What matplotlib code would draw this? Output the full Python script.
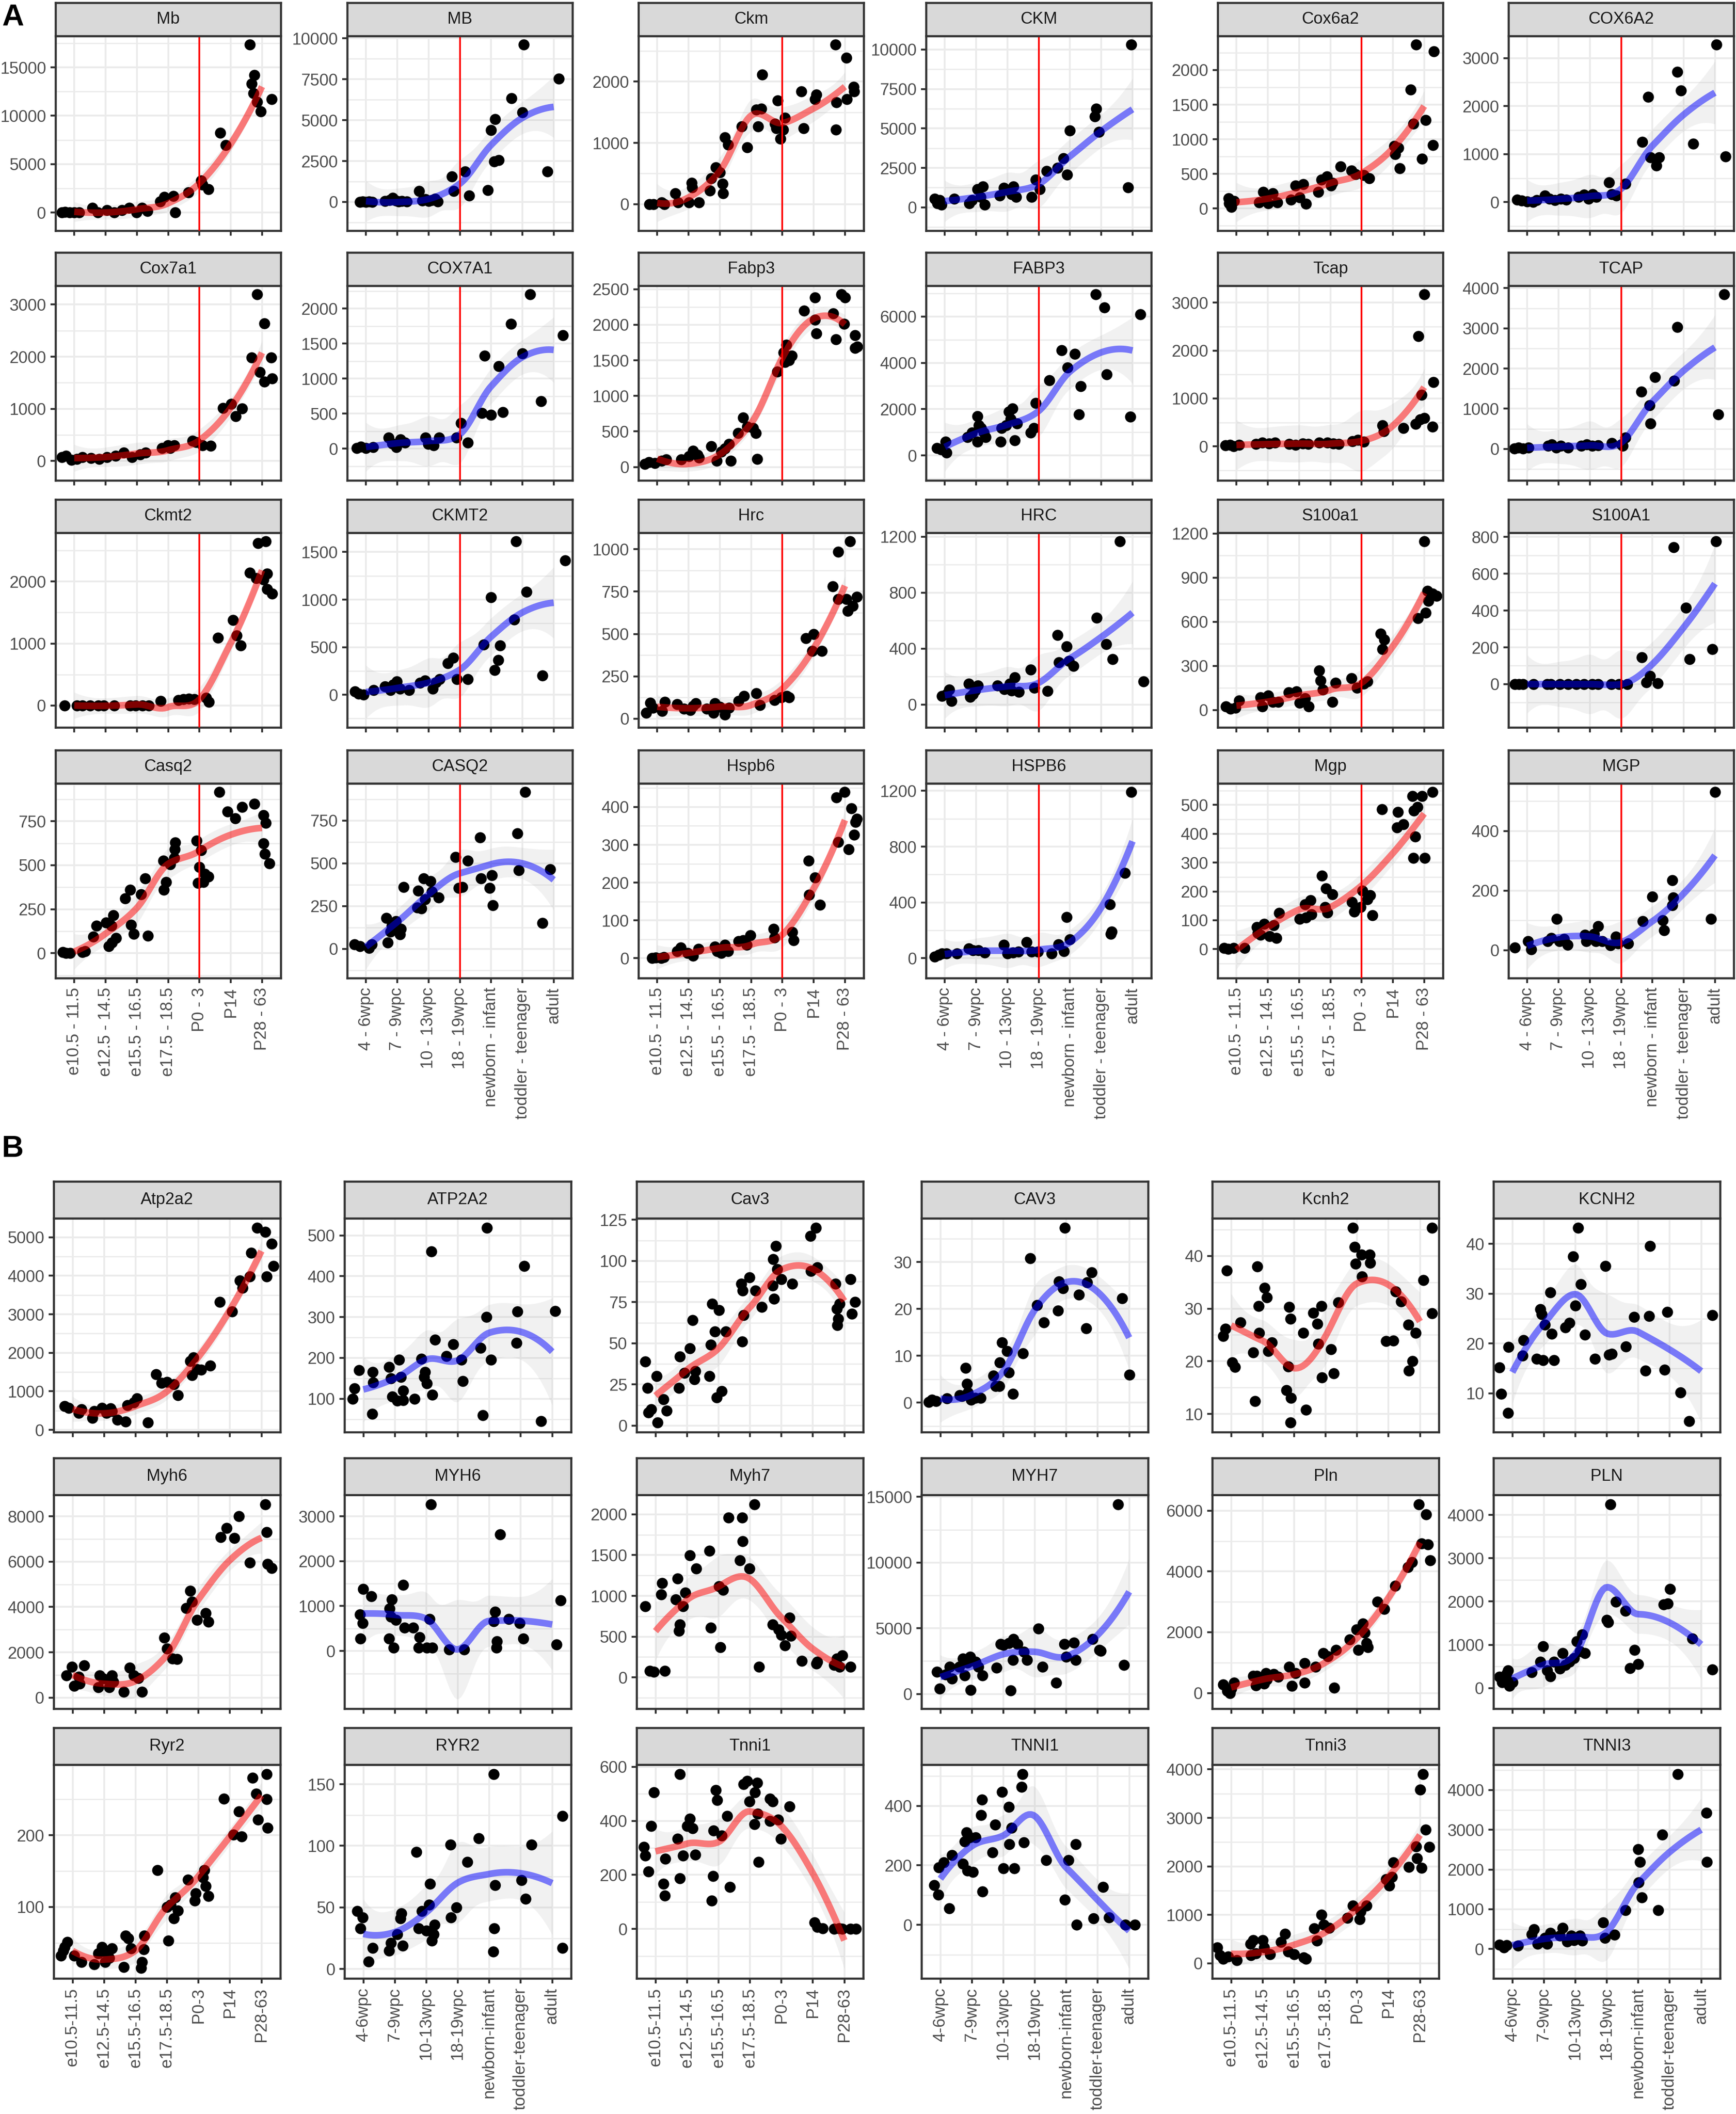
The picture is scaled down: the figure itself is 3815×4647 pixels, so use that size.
import numpy as np
import matplotlib
matplotlib.use("Agg")
import matplotlib.pyplot as plt

plt.rcParams['font.family'] = ['Liberation Sans', 'DejaVu Sans']

W, H = 3815, 4647

# stage labels
mouse_a = ["e10.5 - 11.5", "e12.5 - 14.5", "e15.5 - 16.5", "e17.5 - 18.5", "P0 - 3", "P14", "P28 - 63"]
human_a = ["4 - 6wpc", "7 - 9wpc", "10 - 13wpc", "18 - 19wpc", "newborn - infant", "toddler - teenager", "adult"]
mouse_b = ["e10.5-11.5", "e12.5-14.5", "e15.5-16.5", "e17.5-18.5", "P0-3", "P14", "P28-63"]
human_b = ["4-6wpc", "7-9wpc", "10-13wpc", "18-19wpc", "newborn-infant", "toddler-teenager", "adult"]

# ---- panel A points (jittered stage position, expression) ----
Mb = [(0.6,0),(0.7,50),(0.85,0),(1.0,20),(1.15,0),(1.58,480),(1.75,0),(2.05,240),(2.28,0),(2.52,240),(2.75,480),(2.99,0),(3.16,480),(3.34,160),(3.75,1120),(3.87,1600),(4.16,1680),(4.22,0),(4.64,2080),(5.05,3270),(5.1,2870),(5.28,2400),(5.67,8220),(5.84,6950),(6.61,17330),(6.67,13330),(6.73,12300),(6.75,14210),(6.84,11420),(6.96,10460),(7.31,11700)]
MB = [(0.8,0),(0.9,30),(1.0,0),(1.1,20),(1.2,10),(1.6,50),(1.75,100),(1.85,250),(1.95,80),(2.05,30),(2.15,60),(2.3,20),(2.7,660),(2.8,80),(2.9,150),(3.0,40),(3.1,100),(3.2,200),(3.3,30),(3.75,1560),(3.8,660),(4.16,1850),(4.3,380),(4.9,710),(5.0,4400),(5.1,2460),(5.13,5070),(5.25,2560),(5.65,6350),(6.0,5490),(6.05,9610),(6.8,1850),(7.17,7530)]
Ckm = [(0.75,0),(0.88,0),(1.14,25),(1.23,0),(1.58,175),(1.67,25),(2.02,25),(2.1,350),(2.12,270),(2.34,25),(2.69,220),(2.73,420),(2.87,600),(3.0,520),(3.09,330),(3.1,175),(3.17,1090),(3.26,970),(3.7,1265),(3.88,930),(4.17,1540),(4.32,1560),(4.23,1265),(4.35,2110),(4.76,1315),(4.85,1690),(4.8,1240),(4.94,1070),(5.03,1215),(5.08,1410),(5.61,1840),(5.68,1240),(6.09,1790),(6.04,1710),(6.7,2600),(6.71,1215),(6.73,1660),(7.05,2390),(7.06,1710),(7.28,1910),(7.3,1840)]
CKM = [(0.68,550),(0.77,255),(0.89,155),(0.84,450),(1.3,550),(1.78,255),(1.87,450),(2.05,1140),(2.22,1330),(2.14,650),(2.28,155),(2.75,745),(2.89,1235),(3.02,1100),(3.14,845),(3.19,1330),(3.28,650),(3.77,650),(3.9,1765),(4.04,1140),(4.26,2315),(4.61,2510),(4.79,3100),(4.91,2060),(5.0,4870),(5.84,6240),(5.8,5750),(5.93,4770),(6.86,1255),(6.96,10300)]
Cox6a2 = [(0.75,150),(0.76,75),(0.84,20),(0.93,110),(1.72,85),(1.85,240),(1.96,195),(2.02,75),(2.16,220),(2.3,85),(2.74,130),(2.88,330),(3.02,160),(3.14,350),(3.22,65),(3.61,240),(3.72,415),(3.89,465),(4.02,330),(4.07,370),(4.33,610),(4.67,545),(4.81,495),(5.07,480),(5.25,435),(6.07,785),(6.18,875),(6.22,580),(6.04,905),(6.57,1715),(6.74,2365),(6.65,1225),(7.04,1280),(6.93,720),(7.28,915),(7.31,2270)]
COX6A2 = [(0.68,55),(0.82,30),(1.0,15),(1.18,0),(1.3,45),(1.57,140),(1.71,75),(1.89,45),(2.07,75),(2.24,55),(2.64,110),(2.82,160),(2.96,75),(3.09,170),(3.2,110),(3.61,415),(3.7,170),(3.84,140),(4.14,380),(4.68,1255),(4.86,2195),(4.94,935),(5.12,765),(5.21,935),(5.79,2720),(5.91,2325),(6.3,1220),(7.04,3280),(7.34,955)]
Cox7a1 = [(0.61,70),(0.74,100),(0.91,25),(1.09,40),(1.26,70),(1.53,60),(1.79,40),(2.05,70),(2.32,100),(2.58,160),(2.85,70),(3.1,130),(3.28,160),(3.81,245),(3.99,300),(4.07,245),(4.2,300),(4.78,390),(4.9,360),(5.1,300),(5.36,290),(5.75,1015),(6.02,1090),(6.16,860),(6.37,1005),(6.67,1980),(6.84,3190),(6.93,1700),(7.07,2640),(7.08,1520),(7.3,1980),(7.33,1580)]
COX7A1 = [(0.7,10),(0.84,30),(1.0,10),(1.23,20),(1.72,160),(1.84,75),(1.97,20),(2.1,130),(2.25,85),(2.9,160),(2.99,65),(3.17,45),(3.34,160),(3.89,160),(4.04,365),(4.25,85),(4.71,505),(4.79,1325),(5.0,480),(5.24,1175),(5.38,520),(5.63,1780),(6.0,1360),(6.25,2200),(6.6,675),(7.3,1620)]
Fabp3 = [(0.61,40),(0.74,70),(0.93,55),(1.14,85),(1.28,105),(1.76,105),(2.02,150),(2.15,230),(2.29,170),(2.34,130),(2.73,290),(2.9,85),(3.05,215),(3.17,260),(3.35,85),(3.3,325),(3.58,480),(3.74,695),(3.88,570),(4.06,550),(4.15,480),(4.19,115),(4.83,1340),(5.04,1610),(5.12,1720),(5.09,1475),(5.21,1500),(5.3,1565),(5.69,2200),(6.04,2380),(6.05,2070),(6.09,1875),(6.62,2160),(6.71,1795),(6.88,2425),(7.0,2380),(6.97,2015),(7.32,1850),(7.4,1695),(7.33,1675)]
FABP3 = [(0.75,330),(0.88,260),(1.05,130),(1.02,590),(1.72,785),(1.87,980),(2.04,1700),(2.08,1310),(2.05,590),(2.16,1180),(2.25,980),(2.31,785),(2.79,590),(2.82,1180),(2.96,1310),(3.05,1900),(3.17,2030),(3.23,655),(3.31,1375),(3.1,1570),(3.75,980),(3.84,1180),(3.9,2265),(4.34,3250),(4.73,4545),(4.93,3800),(5.16,4390),(5.34,2990),(5.29,1770),(5.82,6945),(6.1,6380),(6.17,3500),(6.93,1665),(7.25,6090)]
Tcap = [(0.65,20),(0.79,35),(0.91,0),(1.09,35),(1.62,50),(1.83,80),(2.05,60),(2.23,80),(2.68,50),(2.89,35),(3.12,60),(3.3,50),(3.65,80),(3.91,80),(4.09,60),(4.27,50),(4.71,110),(4.88,140),(5.07,95),(5.67,440),(5.71,320),(6.34,380),(6.82,2300),(7.0,3170),(6.73,470),(6.87,560),(7.01,595),(6.91,1080),(7.3,1340),(7.26,410)]
TCAP = [(0.59,15),(0.72,35),(0.86,15),(1.04,35),(1.66,75),(1.78,110),(1.92,35),(2.07,75),(2.31,35),(2.72,75),(2.9,110),(3.08,75),(3.26,90),(3.7,150),(4.0,110),(4.05,75),(4.14,285),(4.64,1420),(4.91,1080),(4.94,635),(5.09,1790),(5.69,1700),(5.8,3035),(7.11,860),(7.29,3840)]
Ckmt2 = [(0.69,0),(1.09,0),(1.26,0),(1.51,0),(1.77,0),(1.94,0),(2.28,0),(2.79,0),(2.96,0),(3.18,0),(3.38,0),(3.76,75),(4.32,90),(4.49,100),(4.66,110),(4.83,100),(5.22,125),(5.3,60),(5.59,1090),(6.07,1380),(6.19,1130),(6.32,970),(6.61,2140),(6.87,2620),(7.12,2645),(6.82,2055),(7.04,2030),(7.16,2130),(7.17,1880),(7.33,1805)]
CKMT2 = [(0.64,35),(0.76,10),(0.93,3),(1.24,50),(1.61,85),(1.78,50),(1.87,105),(1.99,140),(2.09,65),(2.38,50),(2.72,125),(2.89,150),(3.14,65),(3.23,130),(3.35,165),(3.62,330),(3.79,390),(3.91,165),(4.26,165),(4.77,525),(4.99,1025),(5.11,260),(5.23,365),(5.29,515),(5.79,1610),(5.74,790),(6.13,1080),(6.64,200),(7.37,1410)]
Hrc = [(0.64,35),(0.78,95),(0.86,65),(1.15,45),(1.24,100),(1.63,85),(1.86,60),(2.06,50),(2.15,75),(2.23,90),(2.58,60),(2.84,90),(2.8,35),(3.0,70),(3.17,25),(3.29,65),(3.6,105),(3.78,135),(4.17,150),(4.29,80),(4.75,110),(4.97,125),(5.14,135),(5.22,125),(5.75,475),(6.0,500),(5.95,400),(6.26,400),(6.61,780),(6.78,985),(7.16,1045),(6.79,705),(7.04,705),(7.09,635),(7.25,665),(7.38,720)]
HRC = [(0.91,60),(1.14,105),(1.22,25),(1.05,75),(1.77,150),(1.9,75),(1.97,100),(2.06,135),(1.81,55),(2.68,135),(2.9,110),(3.07,150),(3.14,100),(3.24,195),(3.36,90),(3.74,250),(3.86,120),(4.29,95),(4.6,495),(4.64,300),(4.89,415),(4.97,310),(5.11,275),(5.86,620),(6.16,430),(6.37,325),(6.59,1165),(7.35,165)]
S100a1 = [(0.66,25),(0.8,8),(1.09,65),(0.97,15),(1.77,85),(1.82,25),(2.02,100),(2.16,55),(2.33,55),(2.67,120),(2.91,125),(3.02,50),(3.31,25),(3.19,80),(3.64,270),(3.69,200),(3.76,140),(4.07,55),(4.16,185),(4.67,215),(4.85,150),(5.07,180),(5.19,195),(5.61,520),(5.73,480),(5.66,415),(6.8,625),(7.0,1145),(7.05,660),(7.13,740),(7.1,810),(7.27,790),(7.39,775)]
S100A1 = [(0.61,0),(0.73,0),(0.86,0),(1.2,0),(1.63,0),(1.75,0),(2.05,0),(2.31,0),(2.56,0),(2.81,0),(3.07,0),(3.27,0),(3.68,0),(3.93,0),(4.19,0),(4.66,145),(4.93,45),(4.8,10),(5.17,5),(5.68,745),(6.07,415),(6.19,135),(6.92,190),(7.03,775)]
Casq2 = [(0.63,5),(0.74,0),(0.86,0),(1.26,5),(1.34,12),(1.6,95),(1.71,155),(2.02,175),(2.19,155),(2.24,215),(2.1,40),(2.2,60),(2.33,85),(2.62,310),(2.79,360),(2.82,160),(2.9,110),(3.13,335),(3.35,100),(3.26,425),(3.84,525),(3.86,360),(3.94,405),(4.06,505),(4.2,540),(4.21,590),(4.23,630),(4.91,640),(4.95,400),(5.05,585),(5.0,490),(5.12,405),(5.17,450),(5.29,435),(5.63,915),(5.9,805),(6.14,765),(6.36,830),(6.75,850),(7.04,785),(7.12,740),(7.05,625),(7.09,565),(7.24,510)]
CASQ2 = [(0.63,25),(0.8,15),(1.1,5),(1.19,25),(1.65,180),(1.7,35),(1.78,100),(1.83,135),(1.95,160),(2.12,115),(2.09,85),(2.21,360),(2.64,240),(2.67,340),(2.77,235),(2.84,410),(2.89,290),(3.06,395),(3.11,335),(3.32,300),(3.86,535),(3.96,355),(4.08,360),(4.26,515),(4.65,650),(4.68,410),(4.95,355),(5.02,430),(5.05,255),(5.84,675),(5.89,460),(6.08,915),(6.64,150),(6.89,465)]
Hspb6 = [(0.83,0),(0.95,2),(1.12,0),(1.21,3),(1.63,18),(1.75,28),(1.97,14),(2.15,6),(2.32,25),(2.84,30),(2.92,18),(3.05,14),(3.17,35),(3.26,18),(3.6,45),(3.74,47),(3.98,61),(3.86,35),(4.72,78),(4.75,55),(5.32,69),(5.36,47),(5.84,258),(6.04,214),(5.85,168),(6.21,141),(6.73,425),(6.99,439),(6.78,307),(7.21,396),(7.38,369),(7.34,360),(7.29,327),(7.12,288)]
HSPB6 = [(0.68,10),(0.8,25),(0.91,35),(1.05,35),(1.39,35),(1.77,70),(1.9,55),(2.07,55),(2.28,40),(2.89,95),(3.01,35),(3.18,40),(3.35,45),(3.61,115),(3.78,45),(3.98,45),(4.42,35),(4.63,100),(4.8,50),(4.9,295),(5.0,135),(6.28,385),(6.33,190),(6.3,175),(6.76,610),(6.96,1190)]
Mgp = [(0.61,3),(0.74,0),(0.91,3),(1.26,3),(1.65,76),(1.68,55),(1.77,50),(1.89,88),(2.06,45),(2.19,83),(2.28,38),(2.36,125),(3.02,105),(3.19,155),(3.22,110),(3.36,170),(3.39,120),(3.73,255),(3.86,210),(3.9,127),(4.07,190),(3.83,146),(4.69,163),(4.77,130),(4.97,145),(5.02,203),(5.19,173),(5.27,187),(5.35,117),(5.65,485),(6.16,475),(6.13,422),(6.33,432),(6.62,530),(6.93,530),(7.27,544),(6.79,493),(6.67,480),(6.71,390),(6.66,316),(7.02,316)]
MGP = [(0.61,8),(1.03,30),(1.12,3),(1.65,30),(1.77,40),(1.94,105),(2.03,30),(2.17,37),(2.29,18),(2.85,52),(2.89,30),(3.0,45),(3.14,55),(3.19,30),(3.27,80),(3.4,30),(3.66,16),(3.83,45),(3.91,23),(4.22,23),(4.69,97),(5.0,180),(5.33,100),(5.38,67),(5.63,235),(5.67,177),(5.64,150),(6.87,105),(7.0,530)]

# ---- panel B points ----
Atp2a2 = [(0.75,615),(0.88,570),(1.19,440),(1.28,530),(1.63,305),(1.68,480),(1.93,570),(2.07,440),(2.25,480),(2.21,555),(2.42,260),(2.68,215),(2.74,645),(2.95,705),(3.04,820),(3.39,195),(3.65,1445),(3.82,1215),(4.0,1240),(4.21,1180),(4.35,900),(4.74,1780),(4.84,1885),(4.79,1420),(4.96,1570),(5.09,1555),(5.37,1670),(5.67,3315),(6.07,3075),(6.32,3870),(6.4,3690),(6.63,3980),(6.68,4590),(6.86,5240),(7.12,5140),(7.33,4830),(7.16,3980),(7.39,4250)]
ATP2A2 = [(0.66,100),(0.72,125),(0.86,170),(1.28,63),(1.3,165),(1.31,140),(1.81,178),(1.87,150),(1.92,105),(2.08,95),(2.13,195),(2.19,153),(2.26,120),(2.27,97),(2.63,100),(2.84,198),(2.93,153),(2.96,165),(3.02,138),(3.16,460),(3.19,110),(3.28,244),(3.64,204),(3.85,233),(4.12,196),(4.16,143),(4.73,225),(4.79,60),(4.91,300),(4.92,518),(5.05,196),(5.86,237),(5.9,314),(6.11,425),(6.65,45),(7.09,315)]
Cav3 = [(0.68,39),(0.74,23),(0.77,8),(0.86,10),(1.04,30),(1.07,2),(1.26,16),(1.35,9),(1.74,23),(1.77,42),(1.92,32),(2.09,47),(2.18,64),(2.23,28),(2.26,33),(2.71,30),(2.76,49),(2.8,74),(2.89,57),(2.94,17),(3.01,70),(3.11,21),(3.24,57),(3.76,51),(3.8,67),(3.73,86),(3.77,82),(3.99,90),(4.17,82),(4.38,72),(4.73,85),(4.77,77),(4.74,101),(4.82,109),(4.87,95),(5.0,89),(5.35,86),(5.93,115),(6.09,120),(5.94,94),(6.14,96),(6.72,86),(6.76,71),(6.85,74),(6.81,65),(6.77,61),(7.2,89),(7.24,68),(7.34,75)]
CAV3 = [(0.63,0.1),(0.73,0.6),(0.86,0.3),(1.21,0.9),(1.62,1.6),(1.69,1.4),(1.8,7.4),(1.84,4.0),(1.87,2.1),(1.98,0.6),(2.1,1.0),(2.28,1.0),(2.69,5.7),(2.76,3.5),(2.87,3.5),(2.88,8.6),(2.96,12.8),(3.12,11.0),(3.17,6.4),(3.3,1.9),(3.62,10.5),(3.85,30.8),(4.07,20.8),(4.29,17.1),(4.74,19.6),(4.77,25.9),(4.96,37.3),(4.9,24.4),(5.4,23.0),(5.66,25.7),(5.64,15.9),(5.81,27.8),(6.77,22.3),(7.0,5.9)]
Kcnh2 = [(0.74,24.8),(0.82,26.2),(0.86,37.2),(1.04,19.8),(1.12,18.9),(1.3,27.4),(1.7,21.7),(1.76,12.4),(1.83,38.0),(1.88,30.5),(1.89,25.4),(2.06,33.9),(2.14,32.1),(2.18,21.9),(2.29,23.6),(2.76,14.5),(2.85,30.3),(2.88,28.1),(2.9,13.0),(2.89,8.4),(2.81,19.0),(3.29,25.4),(3.38,10.8),(3.61,29.2),(3.74,27.1),(3.77,23.3),(3.87,30.5),(3.88,16.9),(4.17,22.3),(4.26,17.7),(4.4,31.2),(4.87,45.3),(4.92,41.7),(4.96,38.5),(5.14,40.2),(5.4,40.2),(5.15,36.1),(5.41,38.7),(5.93,23.8),(6.16,23.9),(6.23,33.2),(6.4,31.3),(6.63,26.9),(6.64,18.2),(6.76,20.0),(6.86,25.4),(7.11,35.4),(7.39,29.1),(7.39,45.3)]
KCNH2 = [(0.59,15.2),(0.64,9.9),(0.86,6.0),(0.87,19.3),(1.32,17.6),(1.36,20.7),(1.77,16.9),(1.89,26.9),(1.93,25.9),(1.98,16.6),(2.03,23.8),(2.21,30.3),(2.25,21.9),(2.33,16.6),(2.69,23.2),(2.82,24.1),(2.93,37.5),(3.0,27.6),(3.09,43.2),(3.18,31.9),(3.31,21.8),(3.63,16.9),(3.95,35.6),(4.07,17.7),(4.16,17.9),(4.6,19.4),(4.87,25.3),(5.23,14.5),(5.35,25.5),(5.38,39.6),(5.84,14.7),(5.93,26.3),(6.34,10.2),(6.61,4.4),(7.36,25.7)]
Myh6 = [(0.81,990),(0.98,1360),(1.05,515),(1.37,1430),(1.23,620),(1.19,915),(1.81,470),(1.86,990),(1.98,840),(2.16,470),(2.25,990),(2.3,695),(2.63,250),(2.81,1315),(2.95,990),(3.21,250),(3.09,870),(3.91,2655),(4.0,2170),(4.18,1730),(4.32,1700),(4.61,3955),(4.74,4710),(4.79,4240),(4.96,3425),(5.23,3720),(5.32,3350),(5.7,7070),(5.89,7485),(6.14,7040),(6.28,8000),(6.63,5960),(7.12,8515),(7.16,7290),(7.19,5890),(7.33,5710)]
MYH6 = [(0.89,810),(0.98,625),(0.9,280),(0.99,1375),(1.25,1215),(1.83,940),(1.87,765),(1.9,1145),(1.96,70),(2.04,695),(1.81,280),(2.26,1475),(2.31,520),(2.58,520),(2.75,70),(2.79,310),(3.02,70),(3.11,710),(3.14,3260),(3.19,70),(3.73,35),(4.2,35),(5.19,870),(5.14,660),(5.23,70),(5.35,2600),(5.24,210),(5.62,710),(5.97,625),(6.08,280),(7.14,140),(7.27,1125)]
Myh7 = [(0.68,870),(0.82,80),(0.95,70),(1.18,1015),(1.21,1155),(1.3,80),(1.65,955),(1.7,1210),(1.77,650),(1.74,570),(1.88,870),(1.95,1040),(2.09,1495),(2.3,1335),(2.71,1555),(2.76,610),(3.01,1115),(3.06,370),(3.15,1075),(3.32,1960),(3.76,1960),(3.77,1670),(3.68,1435),(3.99,1335),(4.15,2120),(4.29,130),(4.73,650),(4.91,590),(5.0,520),(5.12,390),(5.26,730),(5.3,510),(5.65,200),(6.11,170),(6.14,190),(6.67,150),(6.76,230),(6.93,270),(6.85,130),(7.2,130)]
MYH7 = [(0.89,1670),(0.98,385),(1.16,1465),(1.3,2060),(1.37,1160),(1.6,2060),(1.72,2700),(1.77,1415),(1.86,2365),(1.95,2830),(1.96,310),(2.21,2060),(2.34,1415),(2.12,2445),(2.78,1980),(2.92,3810),(3.0,3730),(3.18,3860),(3.24,260),(3.31,2570),(3.32,4170),(3.45,3810),(3.66,3220),(3.76,2570),(4.11,4970),(4.24,2060),(4.68,850),(4.94,3810),(5.0,2830),(5.24,3910),(5.3,2570),(5.83,4170),(6.06,3345),(6.1,3290),(6.65,14410),(6.84,2190)]
Pln = [(0.74,280),(0.88,65),(1.0,145),(1.09,335),(0.96,0),(1.7,555),(1.79,255),(1.82,555),(2.05,310),(2.11,645),(2.14,445),(2.35,620),(2.49,535),(2.84,865),(2.93,235),(3.05,645),(3.33,335),(3.34,980),(3.68,865),(3.93,1310),(4.07,1200),(4.28,180),(4.33,1420),(4.77,1755),(4.98,2090),(5.04,1420),(5.18,2290),(5.25,1980),(5.3,1645),(5.35,1510),(5.65,3000),(5.86,2755),(6.21,3530),(6.61,4145),(6.74,4310),(6.96,6200),(7.05,4920),(7.19,5870),(7.26,4890),(7.32,4365)]
PLN = [(0.59,255),(0.73,215),(0.82,330),(0.91,55),(1.0,135),(0.68,135),(0.86,410),(1.62,370),(1.89,610),(1.98,965),(2.1,410),(2.21,275),(2.33,610),(2.51,450),(2.6,805),(2.69,530),(2.81,610),(2.96,690),(3.05,1085),(3.14,845),(3.22,1240),(3.31,805),(4.0,1575),(4.04,1520),(4.12,4240),(4.29,1990),(4.59,1780),(4.74,465),(4.88,885),(5.0,555),(5.8,1935),(5.94,1950),(6.01,2290),(6.72,1145),(7.35,425)]
Ryr2 = [(0.63,32),(0.75,44),(0.84,51),(0.7,39),(1.05,32),(1.28,23),(1.68,20),(1.81,35),(1.93,44),(2.04,23),(2.16,29),(2.25,42),(2.12,33),(2.63,16),(2.68,60),(2.77,56),(2.86,42),(3.18,15),(3.21,23),(3.26,41),(3.27,60),(3.7,151),(4.0,100),(4.04,53),(4.12,103),(4.21,84),(4.26,113),(4.35,95),(4.67,138),(4.88,109),(4.91,119),(5.14,141),(5.19,151),(5.23,129),(5.32,115),(5.81,251),(6.11,201),(6.28,233),(6.37,198),(6.72,280),(6.84,258),(6.89,222),(7.16,285),(7.17,250),(7.19,210)]
RYR2 = [(0.81,47),(0.98,42),(0.91,33),(1.16,6),(1.3,17),(1.81,15),(1.87,21),(2.07,28),(2.18,41),(2.25,19),(2.21,45),(2.68,95),(2.75,33),(2.86,47),(3.09,52),(3.12,69),(3.0,31),(3.17,23),(3.23,28),(3.26,36),(3.77,101),(3.78,42),(3.95,50),(4.3,87),(4.66,106),(5.14,158),(5.18,68),(5.15,33),(5.13,14),(6.02,72),(6.16,57),(6.34,101),(7.32,124),(7.33,17)]
Tnni1 = [(0.63,304),(0.68,271),(0.77,213),(0.86,381),(0.95,505),(1.26,168),(1.3,123),(1.31,259),(1.7,333),(1.77,188),(1.78,572),(1.88,271),(2.0,381),(2.09,408),(2.18,372),(2.26,275),(2.79,105),(2.83,195),(2.84,364),(2.91,514),(2.96,476),(3.11,346),(3.28,418),(3.37,155),(3.8,536),(3.92,547),(3.98,471),(4.16,505),(4.23,540),(4.14,388),(4.28,248),(4.24,426),(4.63,482),(4.72,471),(4.64,400),(4.9,405),(4.99,333),(5.26,454),(6.05,25),(6.14,7),(6.32,3),(6.67,0),(6.93,0),(7.2,0),(7.37,0),(6.84,3)]
TNNI1 = [(0.81,134),(0.93,102),(0.95,193),(1.11,210),(1.28,56),(1.37,235),(1.72,205),(1.77,280),(1.83,311),(1.86,183),(2.04,178),(1.95,294),(2.3,369),(2.33,421),(2.34,112),(2.12,294),(2.65,244),(2.74,337),(2.96,447),(3.0,190),(3.18,396),(3.19,271),(3.26,326),(3.35,190),(3.58,463),(3.61,506),(3.65,277),(4.36,218),(4.95,85),(5.07,218),(5.33,0),(5.3,271),(5.86,21),(6.17,127),(6.35,25),(6.88,0),(7.18,0)]
Tnni3 = [(0.56,323),(0.65,170),(0.74,92),(0.91,144),(1.18,67),(1.62,400),(1.7,477),(1.79,205),(2.0,477),(2.05,323),(2.23,185),(1.63,170),(2.58,441),(2.71,605),(2.81,246),(3.0,185),(3.3,118),(3.38,92),(3.64,718),(3.73,467),(3.87,1000),(3.94,800),(4.12,733),(4.69,938),(4.87,1195),(5.09,913),(5.12,1067),(5.3,1195),(5.93,1733),(6.02,1605),(6.16,2082),(6.11,1785),(6.65,1990),(6.88,2410),(6.91,2169),(7.0,3579),(7.05,1964),(7.09,3897),(7.18,2759),(7.3,2400)]
TNNI3 = [(0.59,105),(0.73,43),(0.82,93),(1.18,80),(1.62,371),(1.68,495),(1.8,124),(1.93,186),(2.03,279),(2.1,124),(2.21,402),(2.51,340),(2.6,526),(2.74,186),(2.87,340),(2.96,217),(3.14,340),(3.22,204),(3.88,662),(3.94,279),(4.24,353),(4.59,972),(5.0,2507),(5.05,2185),(5.01,1671),(5.12,1300),(5.63,972),(5.76,2879),(6.25,4395),(7.17,3423),(7.18,2185)]

# y tick labels per panel
yt = {
    "Mb": [0,5000,10000,15000], "MB": [0,2500,5000,7500,10000], "Ckm": [0,1000,2000],
    "CKM": [0,2500,5000,7500,10000], "Cox6a2": [0,500,1000,1500,2000], "COX6A2": [0,1000,2000,3000],
    "Cox7a1": [0,1000,2000,3000], "COX7A1": [0,500,1000,1500,2000], "Fabp3": [0,500,1000,1500,2000,2500],
    "FABP3": [0,2000,4000,6000], "Tcap": [0,1000,2000,3000], "TCAP": [0,1000,2000,3000,4000],
    "Ckmt2": [0,1000,2000], "CKMT2": [0,500,1000,1500], "Hrc": [0,250,500,750,1000],
    "HRC": [0,400,800,1200], "S100a1": [0,300,600,900,1200], "S100A1": [0,200,400,600,800],
    "Casq2": [0,250,500,750], "CASQ2": [0,250,500,750], "Hspb6": [0,100,200,300,400],
    "HSPB6": [0,400,800,1200], "Mgp": [0,100,200,300,400,500], "MGP": [0,200,400],
    "Atp2a2": [0,1000,2000,3000,4000,5000], "ATP2A2": [100,200,300,400,500], "Cav3": [0,25,50,75,100,125],
    "CAV3": [0,10,20,30], "Kcnh2": [10,20,30,40], "KCNH2": [10,20,30,40],
    "Myh6": [0,2000,4000,6000,8000], "MYH6": [0,1000,2000,3000], "Myh7": [0,500,1000,1500,2000],
    "MYH7": [0,5000,10000,15000], "Pln": [0,2000,4000,6000], "PLN": [0,1000,2000,3000,4000],
    "Ryr2": [100,200], "RYR2": [0,50,100,150], "Tnni1": [0,200,400,600],
    "TNNI1": [0,200,400], "Tnni3": [0,1000,2000,3000,4000], "TNNI3": [0,1000,2000,3000,4000],
}

rows_a = [[("Mb", Mb), ("MB", MB), ("Ckm", Ckm), ("CKM", CKM), ("Cox6a2", Cox6a2), ("COX6A2", COX6A2)],
          [("Cox7a1", Cox7a1), ("COX7A1", COX7A1), ("Fabp3", Fabp3), ("FABP3", FABP3), ("Tcap", Tcap), ("TCAP", TCAP)],
          [("Ckmt2", Ckmt2), ("CKMT2", CKMT2), ("Hrc", Hrc), ("HRC", HRC), ("S100a1", S100a1), ("S100A1", S100A1)],
          [("Casq2", Casq2), ("CASQ2", CASQ2), ("Hspb6", Hspb6), ("HSPB6", HSPB6), ("Mgp", Mgp), ("MGP", MGP)]]
rows_b = [[("Atp2a2", Atp2a2), ("ATP2A2", ATP2A2), ("Cav3", Cav3), ("CAV3", CAV3), ("Kcnh2", Kcnh2), ("KCNH2", KCNH2)],
          [("Myh6", Myh6), ("MYH6", MYH6), ("Myh7", Myh7), ("MYH7", MYH7), ("Pln", Pln), ("PLN", PLN)],
          [("Ryr2", Ryr2), ("RYR2", RYR2), ("Tnni1", Tnni1), ("TNNI1", TNNI1), ("Tnni3", Tnni3), ("TNNI3", TNNI3)]]


def loess(x, y, xs, span=0.75, cell=0.2):
    # degree-2 loess with tricube weights, evaluated on kd-tree vertices and
    # blended with cubic Hermite pieces (the way R's loess 'interpolate' surface works)
    n = len(x)
    q = int(np.floor(n * span + 1e-5))
    fc = int(np.floor(n * span * cell))

    def local(z):
        d = np.abs(x - z)
        h = max(np.sort(d)[q - 1], 1e-9)
        u = d / h
        w = np.where(u < 1, (1 - u ** 3) ** 3, 0.0)
        X = np.column_stack([np.ones(n), x - z, (x - z) ** 2])
        A = X.T @ (w[:, None] * X)
        S = np.linalg.lstsq(A, X.T * w, rcond=None)[0]
        return S[0], S[1]

    srt = np.sort(x)
    a, b = srt[0], srt[-1]
    mu = 0.005 * max(b - a, 1e-10 * max(abs(a), abs(b)) + 1e-30)
    cells = []

    def build(sub, vlo, vhi):
        N = len(sub)
        if N <= fc:
            cells.append((vlo, vhi))
            return
        m = (1 + N) // 2
        off = 0
        while 1 <= m + off < N:
            if sub[m + off - 1] == sub[m + off]:
                off = -off
                if off >= 0:
                    off += 1
            else:
                m += off
                break
        xm = sub[m - 1]
        if xm == vlo or xm == vhi:
            cells.append((vlo, vhi))
            return
        build(sub[:m], vlo, xm)
        build(sub[m:], xm, vhi)

    build(srt, a - mu, b + mu)
    verts = sorted(set([c[0] for c in cells] + [c[1] for c in cells]))
    vals = {v: local(v) for v in verts}

    def row(z):
        v0, v1 = next(c for c in cells if c[0] <= z <= c[1])
        g0, s0 = vals[v0]
        g1, s1 = vals[v1]
        hh = v1 - v0
        t = (z - v0) / hh
        return (g0 * (2 * t ** 3 - 3 * t ** 2 + 1) + s0 * hh * (t ** 3 - 2 * t ** 2 + t)
                + g1 * (-2 * t ** 3 + 3 * t ** 2) + s1 * hh * (t ** 3 - t ** 2))

    Lg = np.array([row(v) for v in xs])
    Ld = np.array([row(v) for v in x])
    fit = Lg @ y
    R = np.eye(n) - Ld
    RR = R.T @ R
    d1 = np.trace(RR)
    d2 = np.trace(RR @ RR)
    s = np.sqrt(np.sum((R @ y) ** 2) / d1)
    df = d1 ** 2 / d2
    z = 1.959964
    tq = z + (z ** 3 + z) / (4 * df) + (5 * z ** 5 + 16 * z ** 3 + 3 * z) / (96 * df ** 2)
    se = s * np.sqrt(np.sum(Lg ** 2, axis=1))
    return fit, fit - tq * se, fit + tq * se


fig = plt.figure(figsize=(W / 300, H / 300), dpi=300)

GRID = '#EBEBEB'
DARK = '#333333'
TXT = '#4D4D4D'


def panel(left, top, width, sh, ph, name, pts, human, vline, labels):
    x = np.array([p[0] for p in pts], float)
    y = np.array([p[1] for p in pts], float)
    grp = np.clip(np.round(x), 1, 7)
    xs = np.linspace(1, 7, 80)
    fit, lo, hi = loess(grp, y, xs)
    y0 = min(y.min(), lo.min())
    y1 = max(y.max(), hi.max())
    pad = 0.05 * (y1 - y0)

    ax = fig.add_axes([left / W, 1 - (top + sh + ph) / H, width / W, ph / H])
    ax.set_xlim(0.4, 7.6)
    ax.set_ylim(y0 - pad, y1 + pad)
    ticks = [t for t in yt[name] if y0 - pad <= t <= y1 + pad]
    step = yt[name][1] - yt[name][0]
    minors = [t for t in np.arange(yt[name][0] - step / 2, yt[name][-1] + step, step) if y0 - pad <= t <= y1 + pad]
    ax.set_yticks(ticks)
    ax.set_yticklabels([str(int(t)) for t in ticks])
    ax.set_yticks(minors, minor=True)
    ax.set_xticks(range(1, 8))
    if labels:
        ax.set_xticklabels(labels, rotation=90, fontsize=8.8, color=TXT)
    else:
        ax.set_xticklabels([])
    ax.grid(which='major', color=GRID, lw=0.95, zorder=0)
    ax.grid(which='minor', axis='y', color=GRID, lw=0.65, zorder=0)
    ax.set_axisbelow(True)
    ax.tick_params(which='major', length=2.75, width=1.0, color=DARK, pad=2.2, labelsize=8.8, labelcolor=TXT)
    ax.tick_params(which='minor', length=0)
    for sp in ax.spines.values():
        sp.set_color(DARK)
        sp.set_linewidth(1.1)

    col = 'blue' if human else 'red'
    ax.fill_between(xs, lo, hi, color='#999999', alpha=0.13, lw=0, zorder=1)
    ax.scatter(x, y, s=34, c='black', lw=0, zorder=2)
    ax.plot(xs, fit, color=col, alpha=0.5, lw=3.5, solid_capstyle='butt', zorder=3)
    if vline:
        ax.axvline(4 if human else 5, color='red', lw=0.9, zorder=4)

    sax = fig.add_axes([left / W, 1 - (top + sh) / H, width / W, sh / H])
    sax.set_facecolor('#D9D9D9')
    sax.set_xticks([])
    sax.set_yticks([])
    for sp in sax.spines.values():
        sp.set_color(DARK)
        sp.set_linewidth(1.1)
    sax.text(0.5, 0.5, name, ha='center', va='center', fontsize=8.8, color='#1A1A1A', transform=sax.transAxes)


# panel A layout
a_left = [122, 763, 1403, 2035, 2676, 3315]
a_top = [6, 555, 1098, 1649]
for r, row in enumerate(rows_a):
    for c, (name, pts) in enumerate(row):
        human = c % 2 == 1
        labs = None
        if r == len(rows_a) - 1:
            labs = human_a if human else mouse_a
        panel(a_left[c], a_top[r], 495, 73, 428, name, pts, human, True, labs)

# panel B layout
b_left = [118, 757, 1399, 2025, 2664, 3282]
b_top = [2597, 3205, 3798]
for r, row in enumerate(rows_b):
    for c, (name, pts) in enumerate(row):
        human = c % 2 == 1
        labs = None
        if r == len(rows_b) - 1:
            labs = human_b if human else mouse_b
        panel(b_left[c], b_top[r], 498, 81, 470, name, pts, human, False, labs)

fig.text(4 / W, 1 - 8 / H, "A", fontsize=16, fontweight='bold', ha='left', va='top')
fig.text(4 / W, 1 - 2495 / H, "B", fontsize=16, fontweight='bold', ha='left', va='top')

fig.savefig("out.png", dpi=300)
